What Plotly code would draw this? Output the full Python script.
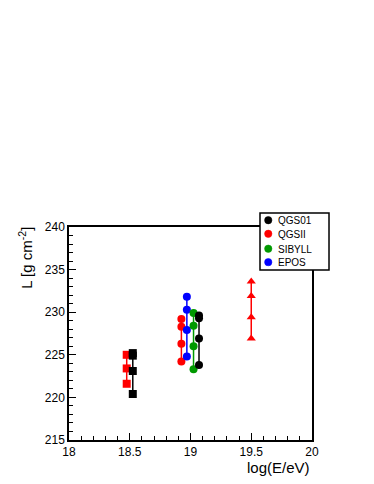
import plotly.graph_objects as go

# energy bins (log10 E/eV) for each group of points
x_sq_red = 18.475
x_sq_black = 18.525
x_qgsii = 18.925
x_epos = 18.97
x_sibyll = 19.025
x_qgs01 = 19.07
x_tri = 19.5

# L values [g cm^-2]
sq_red = [225.0, 223.4, 221.6]
sq_black = [225.2, 224.9, 223.1, 220.4]
qgsii = [229.2, 228.3, 226.3, 224.2]
epos = [231.8, 230.3, 227.9, 224.8]
sibyll = [229.9, 228.4, 226.0, 223.3]
qgs01 = [229.6, 229.3, 226.9, 223.8]
tri_red = [233.6, 231.9, 229.4, 226.9]

legend_names = ['QGS01', 'QGSII', 'SIBYLL', 'EPOS']
legend_colors = ['black', 'red', '#009900', 'blue']

fig = go.Figure()


def group(x, y, color, symbol, size=8):
    fig.add_trace(go.Scatter(
        x=[x] * len(y), y=y,
        mode='lines+markers',
        line=dict(color=color, width=1.5),
        marker=dict(color=color, symbol=symbol, size=size),
        showlegend=False,
        hoverinfo='x+y'
    ))


group(x_sq_red, sq_red, 'red', 'square')
group(x_sq_black, sq_black, 'black', 'square')
group(x_qgsii, qgsii, 'red', 'circle')
group(x_epos, epos, 'blue', 'circle')
group(x_sibyll, sibyll, '#009900', 'circle')
group(x_qgs01, qgs01, 'black', 'circle')
group(x_tri, tri_red, 'red', 'triangle-up')

axis_common = dict(
    showline=True, linecolor='black', linewidth=1.5, mirror=True,
    ticks='inside', tickcolor='black', ticklen=7, tickwidth=1,
    showgrid=False, zeroline=False,
)

fig.update_xaxes(
    range=[18, 20], dtick=0.5, tick0=18,
    tickfont=dict(size=12, color='black'),
    minor=dict(ticks='inside', ticklen=4, dtick=0.1, tickcolor='black'),
    **axis_common
)
fig.update_yaxes(
    range=[215, 240], dtick=5, tick0=215,
    tickfont=dict(size=12, color='black'),
    minor=dict(ticks='inside', ticklen=4, dtick=1, tickcolor='black'),
    **axis_common
)

fig.add_annotation(
    text='L [g cm<sup>-2</sup>]', textangle=-90,
    xref='paper', yref='paper', x=-0.177, y=1.01,
    xanchor='center', yanchor='top', showarrow=False,
    font=dict(size=15, color='black')
)
fig.add_annotation(
    text='log(E/eV)',
    xref='paper', yref='paper', x=1.0, y=-0.127,
    xanchor='right', yanchor='middle', showarrow=False,
    font=dict(size=15, color='black')
)

# legend box (drawn by hand to get the compact ROOT-style look)
fig.add_shape(
    type='rect', xref='paper', yref='paper',
    x0=0.786, x1=1.070, y0=0.798, y1=1.066,
    line=dict(color='black', width=1.5), fillcolor='white', layer='above'
)
row_y = [1.032, 0.968, 0.898, 0.835]
for name, col, ry in zip(legend_names, legend_colors, row_y):
    # legend symbol: small filled circle, sized in pixels
    fig.add_shape(
        type='circle', xref='paper', yref='paper',
        xsizemode='pixel', ysizemode='pixel',
        xanchor=0.82, yanchor=ry, x0=-3.7, x1=3.7, y0=-3.7, y1=3.7,
        line=dict(color=col, width=0.5), fillcolor=col, layer='above'
    )
    fig.add_annotation(
        text=name, xref='paper', yref='paper', x=0.855, y=ry,
        xanchor='left', yanchor='middle', showarrow=False,
        height=12, borderpad=0,
        font=dict(size=10, color='black')
    )

# the page adds ~8px body margin, so shift the figure up/left by that
fig.update_layout(
    width=374, height=484,
    margin=dict(l=61, r=70, t=219, b=52, autoexpand=False),
    font=dict(family='Liberation Sans, Arial, sans-serif', color='black'),
    plot_bgcolor='white',
    paper_bgcolor='white',
    showlegend=False,
)

fig.write_html("out.html")
